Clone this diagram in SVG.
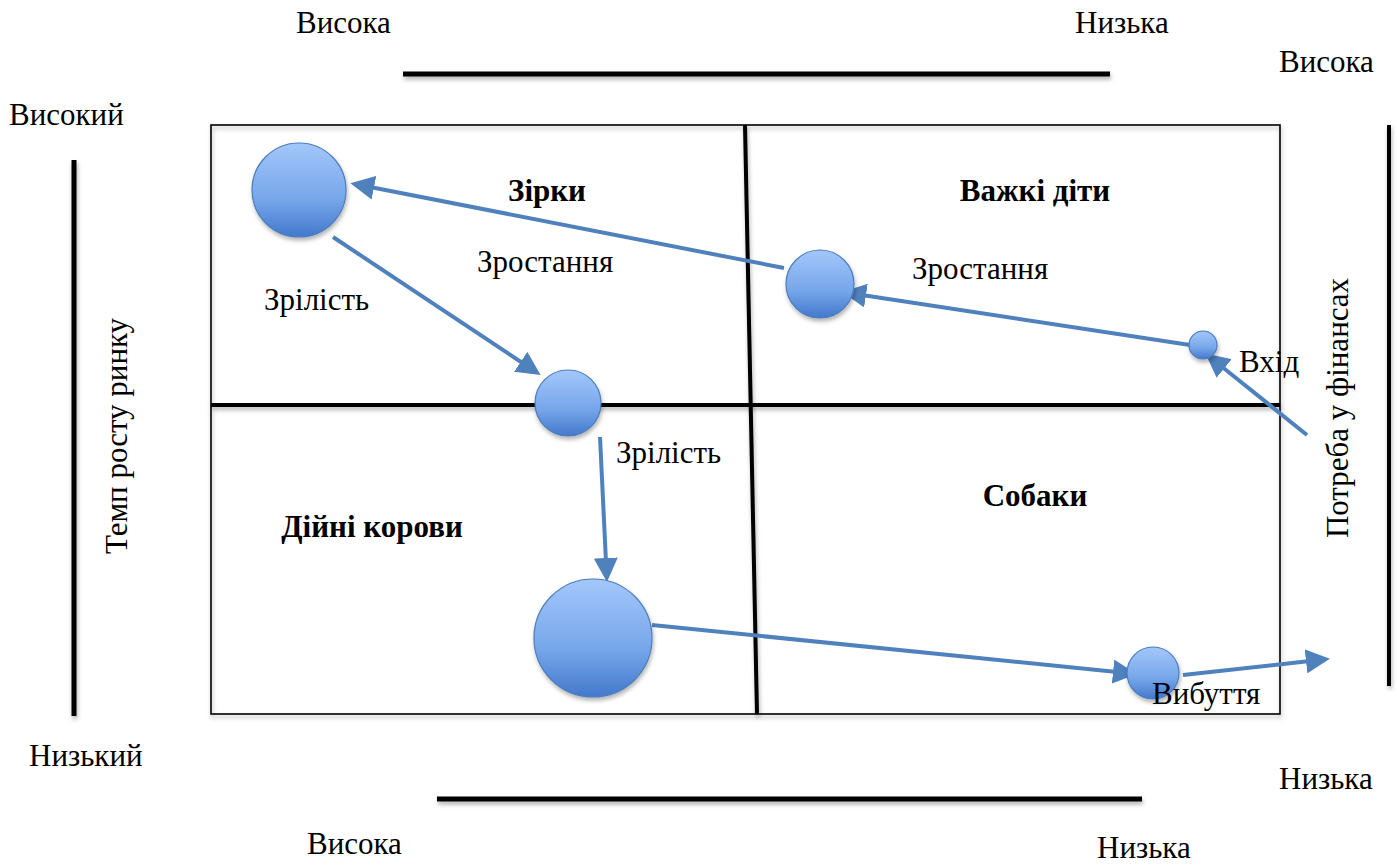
<svg xmlns="http://www.w3.org/2000/svg" width="1397" height="866" viewBox="0 0 1397 866">
<style>
text{font-family:"Liberation Serif","DejaVu Serif","Times New Roman",serif;font-size:31px;fill:#000}
.b{font-weight:bold}
.line{stroke:#000;stroke-width:5;fill:none;filter:url(#sh)}
.ball{fill:url(#g);stroke:#4a7ebb;stroke-width:1.2;filter:url(#sh)}
.arr{stroke:#4f81bd;stroke-width:4;fill:none;marker-end:url(#ah)}
</style>
<defs>
<linearGradient id="g" x1="0" y1="0" x2="0" y2="1">
<stop offset="0" stop-color="#a3c7fb"/>
<stop offset="0.6" stop-color="#76a6ea"/>
<stop offset="1" stop-color="#4378cc"/>
</linearGradient>
<filter id="sh" filterUnits="userSpaceOnUse" x="0" y="0" width="1397" height="866">
<feDropShadow dx="1" dy="3" stdDeviation="2" flood-color="#000" flood-opacity="0.3"/>
</filter>
<marker id="ah" markerWidth="6" markerHeight="6" refX="1" refY="3" orient="auto" markerUnits="strokeWidth" viewBox="0 0 6 6">
<path d="M0,0 L6,3 L0,6 z" fill="#4f81bd"/>
</marker>
</defs>
<g id="frame">
<rect x="211" y="125" width="1069" height="589" fill="none" stroke="#000" stroke-width="1.6" filter="url(#sh)"/>
<line class="line" x1="211" y1="405" x2="1280" y2="405" style="stroke-width:4"/>
<line class="line" x1="745" y1="125" x2="757" y2="714" style="stroke-width:4"/>
</g>
<g id="axes">
<line class="line" x1="403" y1="74" x2="1110" y2="74"/>
<line class="line" x1="437" y1="799" x2="1142" y2="799"/>
<line class="line" x1="74" y1="160" x2="74" y2="716"/>
<line class="line" x1="1389" y1="125" x2="1389" y2="686" style="stroke-width:4"/>
</g>
<g id="axis-labels">
<text x="296" y="33">Висока</text>
<text x="1075" y="33">Низька</text>
<text x="1279" y="72">Висока</text>
<text x="9" y="125">Високий</text>
<text x="29" y="766">Низький</text>
<text x="1279" y="789">Низька</text>
<text x="307" y="854">Висока</text>
<text x="1097" y="858">Низька</text>
<text transform="translate(127,436) rotate(-90)" text-anchor="middle">Темп росту ринку</text>
<text transform="translate(1348,408) rotate(-90)" text-anchor="middle">Потреба у фінансах</text>
</g>
<g id="quadrant-labels">
<text class="b" x="547" y="201" text-anchor="middle">Зірки</text>
<text class="b" x="1035" y="201" text-anchor="middle">Важкі діти</text>
<text class="b" x="372" y="537" text-anchor="middle">Дійні корови</text>
<text class="b" x="1035" y="506" text-anchor="middle">Собаки</text>
</g>
<g id="connectors">
<line class="arr" x1="784" y1="268" x2="370" y2="187"/>
<line class="arr" x1="1190" y1="345" x2="862" y2="295"/>
<line class="arr" x1="1307" y1="435" x2="1221" y2="366"/>
<line class="arr" x1="333" y1="237" x2="524" y2="364"/>
<line class="arr" x1="600" y1="437" x2="606" y2="562"/>
<line class="arr" x1="652" y1="625" x2="1117" y2="672"/>
<line class="arr" x1="1183" y1="675" x2="1310" y2="661"/>
</g>
<g id="node-stars"><circle class="ball" cx="299" cy="190" r="47"/></g>
<g id="node-problem"><circle class="ball" cx="820" cy="284" r="34"/></g>
<g id="node-entry"><circle class="ball" cx="1203" cy="345" r="14"/></g>
<g id="node-border"><circle class="ball" cx="568" cy="403" r="33"/></g>
<g id="node-cow"><circle class="ball" cx="593" cy="638" r="59"/></g>
<g id="node-dog"><circle class="ball" cx="1153" cy="673" r="26"/></g>
<g id="flow-labels">
<text x="477" y="272">Зростання</text>
<text x="264" y="310">Зрілість</text>
<text x="912" y="279">Зростання</text>
<text x="1239" y="372">Вхід</text>
<text x="616" y="463">Зрілість</text>
<text x="1152" y="704">Вибуття</text>
</g>
</svg>
